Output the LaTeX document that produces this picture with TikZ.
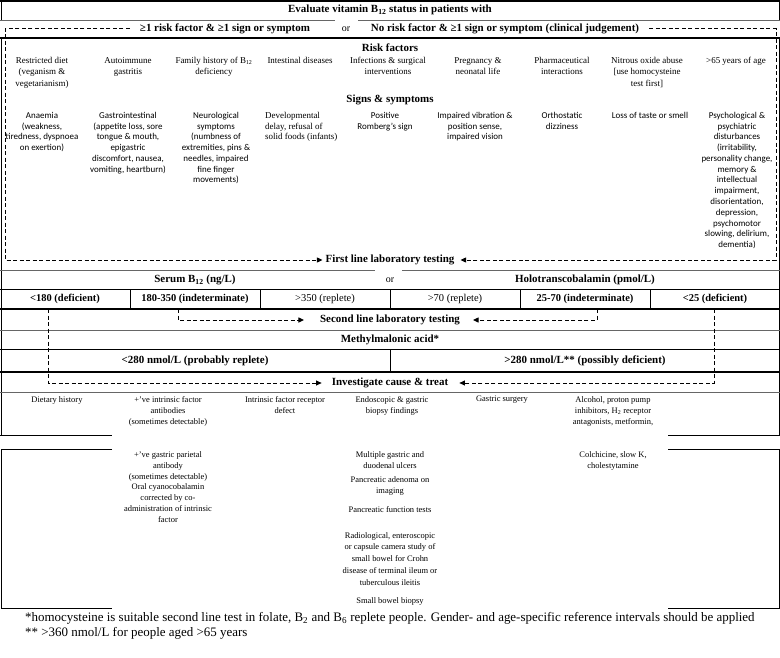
\documentclass[tikz,border=0pt]{standalone}
\usepackage{fontspec}
\setmainfont{Liberation Serif}
\newfontfamily\sgnfont{Carlito}
\usetikzlibrary{arrows.meta}
\usetikzlibrary{positioning}

\begin{document}
\begin{tikzpicture}[x=1bp,y=-1bp,
  hd/.style={font=\fontsize{11}{13}\selectfont\bfseries, inner sep=1bp},
  orx/.style={font=\fontsize{10}{12}\selectfont, inner sep=1bp},
  cell/.style={font=\fontsize{10.5}{12}\selectfont\bfseries, minimum height=20bp, inner sep=0pt},
  rsk/.style={font=\fontsize{9}{11.5}\selectfont, align=center, anchor=north, inner sep=0pt},
  sgn/.style={font=\fontsize{9}{10.8}\selectfont\sgnfont, align=center, anchor=north, inner sep=0pt},
  inv/.style={font=\fontsize{8.5}{11.3}\selectfont, align=center, anchor=north, inner sep=0pt},
  note/.style={font=\fontsize{13}{15}\selectfont, anchor=west, inner sep=0pt},
  thk/.style={line width=1.4bp},
  thn/.style={line width=0.7bp, draw=black!60},
  bdr/.style={line width=0.8bp},
  dasharr/.style={dash pattern=on 4bp off 2.5bp, line width=1bp,
    -{Triangle[length=5.5bp,width=5bp]}},
]
\useasboundingbox (0,0) rectangle (780,658);

% Cadre et lignes
\draw[thk] (0,1) -- (780,1);
\draw[bdr] (1,0) -- (1,20);
\draw[bdr] (779,0) -- (779,20);
\draw[thn] (0,20) -- (335,20);
\draw[thn] (358,20) -- (780,20);
\draw[thk] (0,38) -- (780,38);
\draw[bdr] (1,38) -- (1,435);
\draw[bdr] (779,38) -- (779,435);
\draw[thn] (0,270) -- (375,270);
\draw[thn] (402,270) -- (780,270);
\draw[bdr] (0,289) -- (780,289);
\foreach \x in {130,260,390,520,650}
  \draw[bdr] (\x,289) -- (\x,309);
\draw[thk] (0,309) -- (780,309);
\draw[thn] (0,330) -- (780,330);
\draw[bdr] (0,349) -- (780,349);
\draw[bdr] (390,349) -- (390,372);
\draw[thk] (0,372) -- (780,372);
\draw[thn] (0,392) -- (780,392);
\draw[bdr] (0,435) -- (112,435);
\draw[bdr] (668,435) -- (780,435);
\draw[bdr] (112,449) -- (1,449) -- (1,608) -- (112,608);
\draw[bdr] (668,449) -- (779,449) -- (779,608) -- (668,608);

% Titre
\node[hd] (title) at (390,10) {Evaluate vitamin B\textsubscript{12} status in patients with};
\node[hd] (grpA) at (225,29) {≥1 risk factor \& ≥1 sign or symptom};
\node[orx] (orA) at (346,29) {or};
\node[hd] (grpB) at (505,29) {No risk factor \& ≥1 sign or symptom (clinical judgement)};

% Facteurs de risque
\node[hd] (riskhd) at (390,48) {Risk factors};
\node[rsk] (r1) at (42,57) {Restricted diet\\(veganism \&\\vegetarianism)};
\node[rsk] (r2) at (128,57) {Autoimmune\\gastritis};
\node[rsk] (r3) at (214,57) {Family history of B\textsubscript{12}\\deficiency};
\node[rsk] (r4) at (300,57) {Intestinal diseases};
\node[rsk] (r5) at (388,57) {Infections \& surgical\\interventions};
\node[rsk] (r6) at (478,57) {Pregnancy \&\\neonatal life};
\node[rsk] (r7) at (562,57) {Pharmaceutical\\interactions};
\node[rsk] (r8) at (647,57) {Nitrous oxide abuse\\{[}use homocysteine\\test first{]}};
\node[rsk] (r9) at (736,57) {>65 years of age};

% Signes et symptômes
\node[hd] (signhd) at (390,100) {Signs \& symptoms};
\node[sgn] (s1) at (42,112) {Anaemia\\(weakness,\\tiredness, dyspnoea\\on exertion)};
\node[sgn] (s2) at (128,112) {Gastrointestinal\\(appetite loss, sore\\tongue \& mouth,\\epigastric\\discomfort, nausea,\\vomiting, heartburn)};
\node[sgn] (s3) at (216,112) {Neurological\\symptoms\\(numbness of\\extremities, pins \&\\needles, impaired\\fine finger\\movements)};
\node[sgn, font=\fontsize{9}{10.8}\selectfont, align=left, anchor=north west] (s4) at (265,112) {Developmental\\delay, refusal of\\solid foods (infants)};
\node[sgn] (s5) at (385,112) {Positive\\Romberg’s sign};
\node[sgn] (s6) at (475,112) {Impaired vibration \&\\position sense,\\impaired vision};
\node[sgn] (s7) at (562,112) {Orthostatic\\dizziness};
\node[sgn] (s8) at (650,112) {Loss of taste or smell};
\node[sgn] (s9) at (737,112) {Psychological \&\\psychiatric\\disturbances\\(irritability,\\personality change,\\memory \&\\intellectual\\impairment,\\disorientation,\\depression,\\psychomotor\\slowing, delirium,\\dementia)};

% Premiere ligne
\node[hd] (first) at (390,260) {First line laboratory testing};
\node[hd] (serum) at (195,280) {Serum B\textsubscript{12} (ng/L)};
\node[orx] (orB) at (390,280) {or};
\node[hd] (holo) at (585,280) {Holotranscobalamin (pmol/L)};
\node[cell] (c1) at (65,299) {<180 (deficient)};
\node[cell] (c2) at (195,299) {180-350 (indeterminate)};
\node[cell, font=\fontsize{10.5}{12}\selectfont] (c3) at (325,299) {>350 (replete)};
\node[cell, font=\fontsize{10.5}{12}\selectfont] (c4) at (455,299) {>70 (replete)};
\node[cell] (c5) at (585,299) {25-70 (indeterminate)};
\node[cell] (c6) at (715,299) {<25 (deficient)};

% Deuxieme ligne
\node[hd] (second) at (390,320) {Second line laboratory testing};
\node[hd] (mma) at (390,340) {Methylmalonic acid*};
\node[hd] (mlo) at (195,361) {<280 nmol/L (probably replete)};
\node[hd] (mhi) at (585,361) {>280 nmol/L** (possibly deficient)};

% Causes
\node[hd] (invest) at (390,383) {Investigate cause \& treat};
\node[inv] (i1) at (57,396) {Dietary history};
\node[inv] (i2) at (168,396) {+’ve intrinsic factor\\antibodies\\(sometimes detectable)};
\node[inv] (i3) at (285,396) {Intrinsic factor receptor\\defect};
\node[inv] (i4) at (392,396) {Endoscopic \& gastric\\biopsy findings};
\node[inv] (i5) at (502,396) {Gastric surgery};
\node[inv] (i6) at (613,396) {Alcohol, proton pump\\inhibitors, H\textsubscript{2} receptor\\antagonists, metformin,};
\node[inv] (j2a) at (168,451) {+’ve gastric parietal\\antibody\\(sometimes detectable)};
\node[inv] (j2b) at (168,483) {Oral cyanocobalamin\\corrected by co-\\administration of intrinsic\\factor};
\node[inv] (j4a) at (390,451) {Multiple gastric and\\duodenal ulcers};
\node[inv] (j4b) at (390,476) {Pancreatic adenoma on\\imaging};
\node[inv, font=\fontsize{8.5}{11.8}\selectfont] (j4c) at (390,506) {Pancreatic function tests};
\node[inv, font=\fontsize{8.5}{11.8}\selectfont] (j4d) at (390,532) {Radiological, enteroscopic\\or capsule camera study of\\small bowel for Crohn\\disease of terminal ileum or\\tuberculous ileitis};
\node[inv] (j4e) at (390,597) {Small bowel biopsy};
\node[inv] (j6) at (613,451) {Colchicine, slow K,\\cholestytamine};

% Notes
\node[note] (note1) at (25,618) {*homocysteine is suitable second line test in folate, B\textsubscript{2} and B\textsubscript{6} replete people. Gender- and age-specific reference intervals should be applied};
\node[note] (note2) at (25,633) {** >360 nmol/L for people aged >65 years};

% Fleches
\coordinate (lA) at (5,29);
\coordinate (rA) at (776,29);
\draw[dasharr, shorten <=9bp, shorten >=2bp] (grpA.west) -- (lA) |- (first.west);
\draw[dasharr, shorten <=9bp, shorten >=5bp] (grpB.east) -- (rA) |- (first.east);
\draw[dasharr, shorten >=15bp] ([xshift=-17bp]c2.south) |- (second.west);
\draw[dasharr, shorten >=12bp] ([xshift=12bp]c5.south) |- (second.east);
\draw[dasharr, shorten >=9bp] ([xshift=-17bp]c1.south) |- (invest.west);
\draw[dasharr, shorten >=10bp] ([xshift=-1bp]c6.south) |- (invest.east);
\end{tikzpicture}
\end{document}
